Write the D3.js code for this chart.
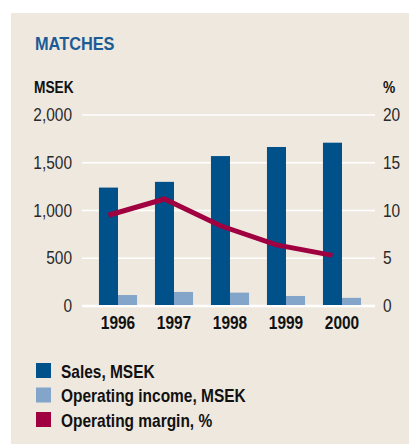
<!DOCTYPE html>
<html>
<head>
<meta charset="utf-8">
<script src="https://cdn.jsdelivr.net/npm/d3@7"></script>
<style>
  body { margin: 0; background: #fff; }
  svg text { font-family: "Liberation Sans", Arial, sans-serif; }
  .tick-label { font-size: 18px; fill: #2a2a2a; }
  .strong { font-weight: bold; fill: #111; }
</style>
</head>
<body>
<svg id="chart" width="409" height="444"></svg>
<script>
const YEARS = ["1996", "1997", "1998", "1999", "2000"];
const SALES = [1240, 1300, 1570, 1665, 1710];
const OP_INCOME = [115, 147, 140, 105, 85];
const OP_MARGIN = [9.5, 11.2, 8.4, 6.4, 5.3];
const LEFT_TICKS = [0, 500, 1000, 1500, 2000];
const RIGHT_TICKS = [0, 5, 10, 15, 20];
const LEGEND = ["Sales, MSEK", "Operating income, MSEK", "Operating margin, %"];

const SALES_COLOR = "#00518a";
const INCOME_COLOR = "#82a5c9";
const MARGIN_COLOR = "#a0003f";
const NARROW = 0.86; // no condensed face installed, so squeeze horizontally

const svg = d3.select("#chart");

// place text at (x, y) with a horizontal squeeze
function at(x, y) {
  return (d, i) => {
    const px = typeof x === "function" ? x(d, i) : x;
    const py = typeof y === "function" ? y(d, i) : y;
    return `translate(${px},${py}) scale(${NARROW},1)`;
  };
}

// panel
svg.append("rect")
  .attr("x", 11).attr("y", 13)
  .attr("width", 398).attr("height", 431)
  .attr("fill", "#efe8df");

svg.append("text").text("MATCHES")
  .attr("transform", at(35, 50))
  .attr("font-size", 19).attr("font-weight", "bold")
  .attr("fill", "#1b5b96");

// scales
const x = d3.scaleBand().domain(YEARS).range([90, 370]).paddingInner(0.32).paddingOuter(0.16);
const yL = d3.scaleLinear().domain([0, 2000]).range([306, 115]);
const yR = d3.scaleLinear().domain([0, 20]).range([306, 115]);

// gridlines
svg.append("g").selectAll("line").data(LEFT_TICKS).enter().append("line")
  .attr("x1", 82).attr("x2", 375)
  .attr("y1", d => yL(d)).attr("y2", d => yL(d))
  .attr("stroke", "#fff")
  .attr("stroke-width", d => d === 0 ? 2.5 : 1.5);

// left axis labels
svg.append("g").selectAll("text").data(LEFT_TICKS).enter().append("text")
  .attr("class", "tick-label")
  .attr("transform", at(72, d => yL(d) + 6))
  .attr("text-anchor", "end")
  .text(d => d3.format(",")(d));

// right axis labels
svg.append("g").selectAll("text").data(RIGHT_TICKS).enter().append("text")
  .attr("class", "tick-label")
  .attr("transform", at(383, d => yR(d) + 6))
  .text(d => d);

svg.append("text").attr("class", "strong").text("MSEK")
  .attr("transform", at(34, 93)).attr("font-size", 16);
svg.append("text").attr("class", "strong").text("%")
  .attr("transform", at(383, 93)).attr("font-size", 16);

const half = x.bandwidth() / 2;

// bars
const groups = svg.append("g").selectAll("g").data(YEARS).enter().append("g");
groups.append("rect")
  .attr("x", d => x(d))
  .attr("y", (d, i) => yL(SALES[i]))
  .attr("width", half)
  .attr("height", (d, i) => yL(0) - 1 - yL(SALES[i]))
  .attr("fill", SALES_COLOR);
groups.append("rect")
  .attr("x", d => x(d) + half)
  .attr("y", (d, i) => yL(OP_INCOME[i]))
  .attr("width", half)
  .attr("height", (d, i) => yL(0) - 1 - yL(OP_INCOME[i]))
  .attr("fill", INCOME_COLOR);

// year labels
svg.append("g").selectAll("text").data(YEARS).enter().append("text")
  .attr("class", "strong")
  .attr("transform", at(d => x(d) + half, 329))
  .attr("text-anchor", "middle")
  .attr("font-size", 18)
  .text(d => d);

// margin line
const line = d3.line()
  .x((d, i) => x(YEARS[i]) + half / 2)
  .y(d => yR(d));
svg.append("path")
  .datum(OP_MARGIN)
  .attr("d", line)
  .attr("fill", "none")
  .attr("stroke", MARGIN_COLOR)
  .attr("stroke-width", 5);

// legend
const legendColors = [SALES_COLOR, INCOME_COLOR, MARGIN_COLOR];
const leg = svg.append("g").selectAll("g").data(LEGEND).enter().append("g")
  .attr("transform", (d, i) => `translate(36, ${363 + i * 24.5})`);
leg.append("rect")
  .attr("width", 15).attr("height", 15)
  .attr("fill", (d, i) => legendColors[i]);
leg.append("text").attr("class", "strong")
  .attr("transform", at(25, 14.5))
  .attr("font-size", 18)
  .text(d => d);
</script>
</body>
</html>
